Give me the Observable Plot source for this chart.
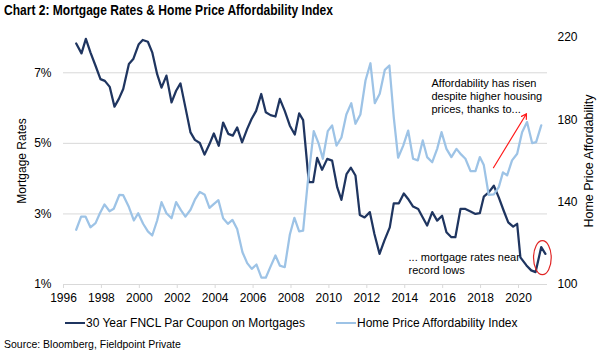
<!DOCTYPE html>
<html><head><meta charset="utf-8">
<script src="https://cdn.jsdelivr.net/npm/d3@7"></script>
<script src="https://cdn.jsdelivr.net/npm/@observablehq/plot@0.6"></script>
<style>
body{margin:0;background:#fff;}
#wrap{position:relative;width:606px;height:352px;overflow:hidden;font-family:"Liberation Sans",Arial,sans-serif;color:#000;background:#fff;}
#title{position:absolute;left:4px;top:2px;font-weight:bold;font-size:14.5px;line-height:16px;white-space:nowrap;transform-origin:0 0;}
#chart{position:absolute;left:0;top:24px;}
#legend{position:absolute;left:0;top:316px;width:606px;height:14px;font-size:12px;}
.item{position:absolute;top:0;white-space:nowrap;line-height:14px;}
.sw{display:inline-block;width:20px;height:2.5px;vertical-align:middle;margin-right:1px;position:relative;top:-1px;}
#source{position:absolute;left:4px;top:338px;font-size:10.5px;line-height:12px;white-space:nowrap;}
</style>
</head><body>
<div id="wrap">
  <div id="title"><span id="titleText">Chart 2: Mortgage Rates &amp; Home Price Affordability Index</span></div>
  <div id="chart"></div>
  <div id="legend"></div>
  <div id="source">Source: Bloomberg, Fieldpoint Private</div>
</div>
<script>
// ---- data ----
const rateYears = [1996.67,1996.95,1997.18,1997.42,1997.69,1997.95,1998.18,1998.44,1998.69,1998.92,1999.15,1999.45,1999.68,1999.97,2000.18,2000.45,2000.68,2000.94,2001.17,2001.43,2001.70,2001.94,2002.17,2002.43,2002.70,2002.93,2003.19,2003.44,2003.70,2003.93,2004.19,2004.42,2004.69,2004.93,2005.16,2005.42,2005.69,2005.92,2006.16,2006.43,2006.67,2006.92,2007.18,2007.41,2007.67,2007.94,2008.20,2008.43,2008.64,2008.94,2009.17,2009.38,2009.64,2009.91,2010.17,2010.44,2010.66,2010.93,2011.16,2011.40,2011.63,2011.88,2012.16,2012.40,2012.67,2012.93,2013.21,2013.42,2013.69,2013.95,2014.21,2014.44,2014.71,2014.95,2015.18,2015.45,2015.71,2015.97,2016.20,2016.46,2016.67,2016.94,2017.20,2017.47,2017.73,2017.96,2018.17,2018.43,2018.70,2018.96,2019.22,2019.46,2019.72,2019.93,2020.10,2020.42,2020.67,2020.90,2021.20,2021.42];
const rateValues = [7.83,7.55,7.96,7.58,7.20,6.82,6.77,6.60,6.04,6.26,6.54,7.25,7.39,7.81,7.93,7.88,7.58,6.96,6.58,6.92,6.16,6.49,6.70,6.02,5.31,5.10,5.01,4.68,4.98,5.28,4.93,5.59,5.27,5.22,5.45,5.03,5.41,5.69,5.92,6.40,5.88,5.80,5.76,6.26,5.92,5.50,5.25,5.85,5.66,3.90,3.90,4.59,4.25,4.56,4.51,3.75,3.40,4.13,4.31,4.09,2.97,2.90,3.05,2.43,1.87,2.25,2.62,3.30,3.30,3.58,3.40,3.21,3.14,2.90,2.67,3.05,2.81,2.95,2.48,2.34,2.34,3.14,3.14,3.07,3.00,3.02,3.49,3.61,3.80,3.47,3.09,2.76,2.64,2.72,1.77,1.54,1.40,1.35,2.06,1.87];

const affYears = [1996.67,1996.93,1997.16,1997.42,1997.69,1997.92,1998.16,1998.43,1998.65,1998.95,1999.15,1999.45,1999.71,1999.94,2000.20,2000.45,2000.68,2000.94,2001.17,2001.43,2001.70,2001.94,2002.20,2002.43,2002.70,2002.93,2003.19,2003.45,2003.70,2003.94,2004.17,2004.42,2004.67,2004.91,2005.16,2005.44,2005.69,2005.93,2006.18,2006.44,2006.67,2006.92,2007.18,2007.41,2007.67,2007.94,2008.18,2008.43,2008.64,2008.88,2009.20,2009.46,2009.68,2009.94,2010.17,2010.40,2010.66,2010.92,2011.18,2011.40,2011.66,2011.93,2012.19,2012.42,2012.68,2012.95,2013.19,2013.42,2013.65,2013.92,2014.18,2014.44,2014.69,2014.95,2015.18,2015.45,2015.71,2015.94,2016.20,2016.46,2016.73,2016.97,2017.20,2017.47,2017.73,2017.96,2018.17,2018.43,2018.70,2018.96,2019.18,2019.40,2019.66,2019.93,2020.19,2020.45,2020.72,2020.93,2021.20];
const affValues = [126.6,133.0,133.0,127.8,129.8,134.6,138.9,135.6,136.8,143.6,143.4,137.6,131.1,134.6,129.5,125.8,123.8,131.1,140.0,134.6,132.2,140.0,136.0,133.0,136.3,141.2,145.0,143.6,137.2,139.2,141.0,132.2,129.5,131.4,127.0,115.7,110.4,107.6,109.7,103.3,103.3,108.7,114.1,109.2,108.4,124.3,132.4,125.8,126.2,149.2,174.5,168.4,161.1,174.5,177.3,167.5,171.4,182.6,188.1,178.1,182.6,199.1,207.5,188.1,192.7,204.3,206.4,181.3,161.6,167.5,174.8,161.1,160.3,170.0,161.9,159.4,165.9,174.0,165.9,161.9,165.9,163.2,161.1,155.1,155.1,161.9,158.0,143.5,143.8,147.3,154.5,153.0,160.3,163.5,174.0,178.9,168.7,169.2,177.3];

const xTickYears = [1996,1998,2000,2002,2004,2006,2008,2010,2012,2014,2016,2018,2020];
const xDomain = [1996, 2021.53];
const leftTicks = [1,3,5,7];
const leftDomain = [1,8];
const rightTicks = [100,140,180,220];
const rightDomain = [100,220];

const seriesNames = ["30 Year FNCL Par Coupon on Mortgages","Home Price Affordability Index"];
const seriesColors = ["#1f3560","#9dc3e6"];
const axisTitles = ["Mortgage Rates","Home Price Affordability"];

// annotations (data units: year, left-axis %)
const noteAfford = {x: 2015.41, y: 6.85, text: "Affordability has risen\ndespite higher housing\nprices, thanks to..."};
const noteRate = {x: 2014.2, y: 1.93, text: "... mortgage rates near\nrecord lows"};
const noteArrow = {x1: 2018.68, y1: 4.31, x2: 2020.42, y2: 5.84};
const noteCircle = {x: 2021.26, y: 1.76};

// ---- helpers ----
const k = (leftDomain[1]-leftDomain[0])/(rightDomain[1]-rightDomain[0]);
const toLeft = v => leftDomain[0] + (v - rightDomain[0]) * k;
const fromLeft = v => Math.round(rightDomain[0] + (v - leftDomain[0]) / k);

const rateData = rateYears.map((x,i)=>({x, v: rateValues[i]}));
const affData = affYears.map((x,i)=>({x, v: affValues[i]}));

const ellipseSymbol = {draw(ctx, size){
  const r = Math.sqrt(size/Math.PI);
  const rx = r*0.52, ry = r, c = 0.5523;
  ctx.moveTo(rx,0);
  ctx.bezierCurveTo(rx, c*ry, c*rx, ry, 0, ry);
  ctx.bezierCurveTo(-c*rx, ry, -rx, c*ry, -rx, 0);
  ctx.bezierCurveTo(-rx, -c*ry, -c*rx, -ry, 0, -ry);
  ctx.bezierCurveTo(c*rx, -ry, rx, -c*ry, rx, 0);
  ctx.closePath();
}};

const plot = Plot.plot({
  width: 606, height: 290,
  marginLeft: 63, marginRight: 59, marginTop: 13, marginBottom: 30,
  style: {fontFamily: '"Liberation Sans", Arial, sans-serif', fontSize: "12px", color: "#000", background: "#fff", overflow: "visible"},
  x: {domain: xDomain},
  y: {domain: leftDomain},
  marks: [
    Plot.ruleY(leftTicks.filter(t => t > leftDomain[0]), {stroke: "#d9d9d9", strokeWidth: 1}),
    Plot.ruleY([leftDomain[0]], {stroke: "#d9d9d9", strokeWidth: 1}),
    Plot.axisX({ticks: xTickYears, tickFormat: d => String(d), tickSize: 4, tickPadding: 5, stroke: "#d9d9d9", fill: "#000", label: null}),
    Plot.axisY({ticks: leftTicks, tickFormat: d => d + "%", tickSize: 0, tickPadding: 12, fill: "#000", label: null}),
    Plot.axisY(rightTicks.map(toLeft), {anchor: "right", tickFormat: d => String(fromLeft(d)), tickSize: 0, tickPadding: 10, fill: "#000", label: null}),
    Plot.text([axisTitles[0]], {text: d => d, frameAnchor: "left", textAnchor: "middle", lineAnchor: "middle", dx: -41, rotate: -90, fontSize: 12, fill: "#000"}),
    Plot.text([axisTitles[1]], {text: d => d, frameAnchor: "right", textAnchor: "middle", lineAnchor: "middle", dx: 41, rotate: -90, fontSize: 12.5, fill: "#000"}),
    Plot.line(rateData, {x: "x", y: "v", stroke: seriesColors[0], strokeWidth: 2.25}),
    Plot.line(affData, {x: "x", y: d => toLeft(d.v), stroke: seriesColors[1], strokeWidth: 2.25}),
    Plot.text([noteAfford], {x: "x", y: "y", text: "text", textAnchor: "start", lineAnchor: "top", fontSize: 11, lineHeight: 1.18, fill: "#000"}),
    Plot.text([noteRate], {x: "x", y: "y", text: "text", textAnchor: "start", lineAnchor: "top", fontSize: 11, lineHeight: 1.18, fill: "#000"}),
    Plot.arrow([noteArrow], {x1: "x1", y1: "y1", x2: "x2", y2: "y2", stroke: "#ff1a1a", strokeWidth: 1.2, headLength: 7}),
    Plot.dot([noteCircle], {x: "x", y: "y", r: 17, symbol: ellipseSymbol, stroke: "#e02424", strokeWidth: 1.2, fill: "none"})
  ]
});
document.getElementById("chart").appendChild(plot);

// legend
const legend = document.getElementById("legend");
const legendX = [[65, 86], [336, 358]];
seriesNames.forEach((name, i) => {
  const item = document.createElement("div");
  item.className = "item";
  item.style.left = legendX[i][0] + "px";
  item.innerHTML = `<span class="sw" style="background:${seriesColors[i]}"></span>`;
  const t = document.createElement("span");
  t.textContent = name;
  item.appendChild(t);
  legend.appendChild(item);
});

// fit title width to reference
const tt = document.getElementById("titleText");
const w = tt.getBoundingClientRect().width;
if (w > 0) document.getElementById("title").style.transform = `scaleX(${329 / w})`;
</script>
</body></html>
